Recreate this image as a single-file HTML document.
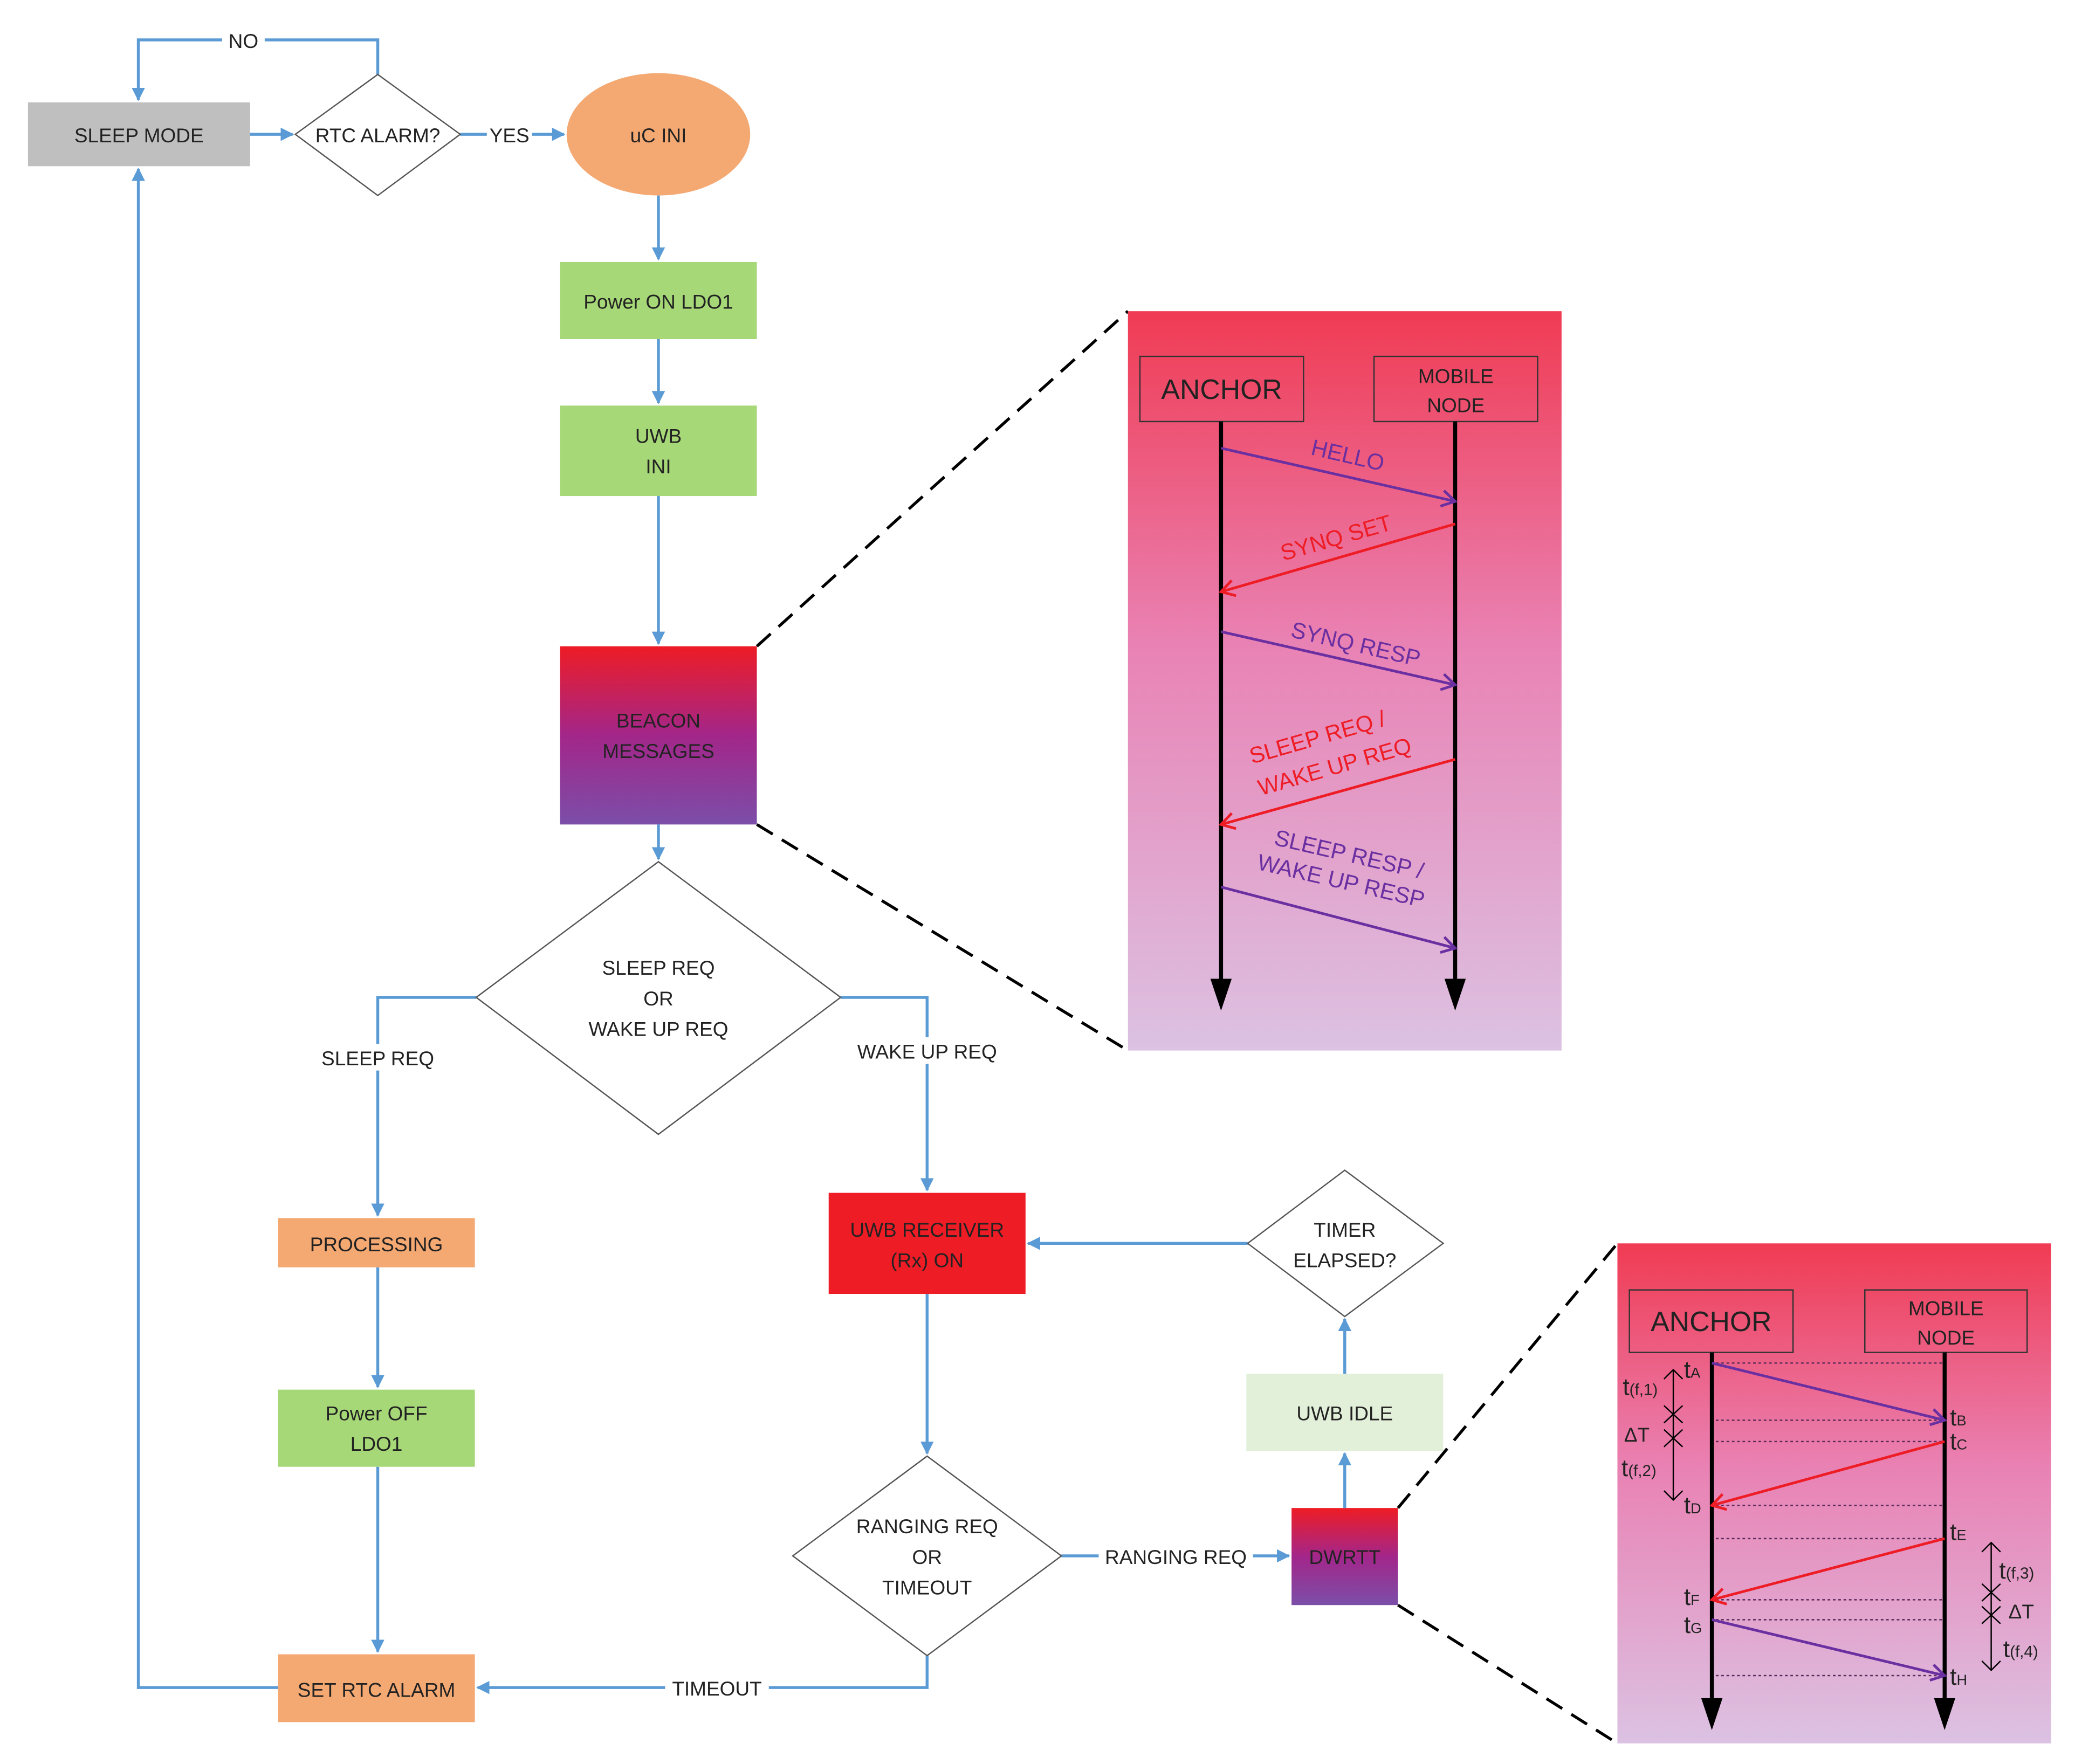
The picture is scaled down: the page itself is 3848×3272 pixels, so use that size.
<!DOCTYPE html>
<html><head><meta charset="utf-8"><style>
html,body{margin:0;padding:0;background:#fff;}
svg{display:block;}
text{font-family:"Liberation Sans",sans-serif;}
</style></head><body>
<svg width="3848" height="3272" viewBox="0 0 1560 1326.5" xmlns="http://www.w3.org/2000/svg">
<defs>
<linearGradient id="bg" x1="0" y1="0" x2="0" y2="1">
<stop offset="0" stop-color="#ee1c25"/><stop offset="0.5" stop-color="#a3268a"/><stop offset="1" stop-color="#7b4ea8"/></linearGradient>
<linearGradient id="pg" x1="0" y1="0" x2="0" y2="1">
<stop offset="0" stop-color="#f03b53"/><stop offset="0.45" stop-color="#e982b4"/><stop offset="1" stop-color="#dcc2e3"/></linearGradient>
<marker id="ab" markerWidth="10" markerHeight="10" refX="9" refY="5" orient="auto" markerUnits="userSpaceOnUse"><path d="M0,0 L10,5 L0,10 z" fill="#5b9bd5"/></marker>
<marker id="ap" markerWidth="14" markerHeight="14" refX="12" refY="7" orient="auto" markerUnits="userSpaceOnUse"><path d="M2,1 L12,7 L2,13" fill="none" stroke="#6a2fa0" stroke-width="2"/></marker>
<marker id="ar" markerWidth="14" markerHeight="14" refX="12" refY="7" orient="auto" markerUnits="userSpaceOnUse"><path d="M2,1 L12,7 L2,13" fill="none" stroke="#ee1c25" stroke-width="2"/></marker>
</defs>
<g fill="none" stroke="#5b9bd5" stroke-width="2.2">
<polyline points="284,56 284,30 104,30 104,75" marker-end="url(#ab)"/>
<line x1="188" y1="101" x2="220" y2="101" marker-end="url(#ab)"/>
<line x1="346" y1="101" x2="424" y2="101" marker-end="url(#ab)"/>
<line x1="495" y1="147" x2="495" y2="195" marker-end="url(#ab)"/>
<line x1="495" y1="255" x2="495" y2="303" marker-end="url(#ab)"/>
<line x1="495" y1="373" x2="495" y2="484" marker-end="url(#ab)"/>
<line x1="495" y1="620" x2="495" y2="646" marker-end="url(#ab)"/>
<polyline points="358,750 284,750 284,914" marker-end="url(#ab)"/>
<polyline points="632,750 697,750 697,895" marker-end="url(#ab)"/>
<line x1="284" y1="953" x2="284" y2="1043" marker-end="url(#ab)"/>
<line x1="284" y1="1103" x2="284" y2="1242" marker-end="url(#ab)"/>
<polyline points="209,1269 104,1269 104,127" marker-end="url(#ab)"/>
<line x1="697" y1="973" x2="697" y2="1093" marker-end="url(#ab)"/>
<polyline points="697,1245 697,1269 359,1269" marker-end="url(#ab)"/>
<line x1="798" y1="1170" x2="969" y2="1170" marker-end="url(#ab)"/>
<line x1="1011" y1="1134" x2="1011" y2="1093" marker-end="url(#ab)"/>
<line x1="1011" y1="1033" x2="1011" y2="992" marker-end="url(#ab)"/>
<polyline points="938,935 912,935 912,935 773,935" marker-end="url(#ab)"/>
</g>
<g fill="none" stroke="#000" stroke-width="2.2" stroke-dasharray="14,8">
<line x1="569" y1="486" x2="848" y2="234"/><line x1="569" y1="620" x2="848" y2="790"/>
<line x1="1051" y1="1134" x2="1216" y2="935"/><line x1="1051" y1="1207" x2="1216" y2="1311"/>
</g>
<rect x="21" y="77" width="167" height="48" fill="#bfbfbf"/>
<polygon points="284,56 346,101 284,147 222,101" fill="#fff" stroke="#555" stroke-width="1"/>
<ellipse cx="495" cy="101" rx="69" ry="46" fill="#f4a872"/>
<rect x="421" y="197" width="148" height="58" fill="#a6d878"/>
<rect x="421" y="305" width="148" height="68" fill="#a6d878"/>
<rect x="421" y="486" width="148" height="134" fill="url(#bg)"/>
<polygon points="495,648 632,750 495,853 358,750" fill="#fff" stroke="#555" stroke-width="1"/>
<rect x="209" y="916" width="148" height="37" fill="#f4a872"/>
<rect x="209" y="1045" width="148" height="58" fill="#a6d878"/>
<rect x="209" y="1244" width="148" height="51" fill="#f4a872"/>
<rect x="623" y="897" width="148" height="76" fill="#ee1c25"/>
<polygon points="697,1095 798,1170 697,1245 596,1170" fill="#fff" stroke="#555" stroke-width="1"/>
<rect x="971" y="1134" width="80" height="73" fill="url(#bg)"/>
<rect x="937" y="1033" width="148" height="58" fill="#e2f0d9"/>
<polygon points="1011,880 1085,935 1011,990 938,935" fill="#fff" stroke="#555" stroke-width="1"/>
<rect x="167" y="22" width="32" height="16" fill="#fff"/>
<rect x="366" y="92" width="34" height="18" fill="#fff"/>
<rect x="238" y="785" width="92" height="20" fill="#fff"/>
<rect x="638" y="780" width="118" height="20" fill="#fff"/>
<rect x="500" y="1260" width="78" height="18" fill="#fff"/>
<rect x="826" y="1160" width="116" height="20" fill="#fff"/>
<g font-size="15" fill="#222" text-anchor="middle">
<text x="183" y="36">NO</text>
<text x="104.5" y="107">SLEEP MODE</text>
<text x="284" y="107">RTC ALARM?</text>
<text x="383" y="107">YES</text>
<text x="495" y="107">uC INI</text>
<text x="495" y="232">Power ON LDO1</text>
<text x="495" y="333">UWB</text><text x="495" y="356">INI</text>
<text x="495" y="547">BEACON</text><text x="495" y="570">MESSAGES</text>
<text x="495" y="733">SLEEP REQ</text><text x="495" y="756">OR</text><text x="495" y="779">WAKE UP REQ</text>
<text x="284" y="801">SLEEP REQ</text>
<text x="697" y="796">WAKE UP REQ</text>
<text x="283" y="941">PROCESSING</text>
<text x="283" y="1068">Power OFF</text><text x="283" y="1091">LDO1</text>
<text x="283" y="1276">SET RTC ALARM</text>
<text x="697" y="930">UWB RECEIVER</text><text x="697" y="953">(Rx) ON</text>
<text x="697" y="1153">RANGING REQ</text><text x="697" y="1176">OR</text><text x="697" y="1199">TIMEOUT</text>
<text x="539" y="1275">TIMEOUT</text>
<text x="884" y="1176">RANGING REQ</text>
<text x="1011" y="1176">DWRTT</text>
<text x="1011" y="1068">UWB IDLE</text>
<text x="1011" y="930">TIMER</text><text x="1011" y="953">ELAPSED?</text>
</g>
<!-- Panel 1 -->
<rect x="848" y="234" width="326" height="556" fill="url(#pg)"/>
<rect x="857" y="268" width="123" height="49" fill="none" stroke="#333" stroke-width="1"/>
<rect x="1033" y="268" width="123" height="49" fill="none" stroke="#333" stroke-width="1"/>
<text x="918.5" y="300" font-size="21" fill="#222" text-anchor="middle">ANCHOR</text>
<text x="1094.5" y="288" font-size="15" fill="#222" text-anchor="middle">MOBILE</text>
<text x="1094.5" y="310" font-size="15" fill="#222" text-anchor="middle">NODE</text>
<g stroke="#000" stroke-width="3"><line x1="918" y1="317" x2="918" y2="740"/><line x1="1094" y1="317" x2="1094" y2="740"/></g>
<polygon points="910,736 926,736 918,760" fill="#000"/><polygon points="1086,736 1102,736 1094,760" fill="#000"/>
<g stroke-width="2" fill="none">
<line x1="918" y1="337" x2="1094" y2="377" stroke="#6a2fa0" marker-end="url(#ap)"/>
<line x1="1094" y1="394" x2="918" y2="445" stroke="#ee1c25" marker-end="url(#ar)"/>
<line x1="918" y1="475" x2="1094" y2="515" stroke="#6a2fa0" marker-end="url(#ap)"/>
<line x1="1094" y1="571" x2="918" y2="620" stroke="#ee1c25" marker-end="url(#ar)"/>
<line x1="918" y1="667" x2="1094" y2="713" stroke="#6a2fa0" marker-end="url(#ap)"/>
</g>
<g font-size="17" text-anchor="middle">
<text x="1012" y="348" fill="#6a2fa0" transform="rotate(13 1012 348)">HELLO</text>
<text x="1006" y="410" fill="#ee1c25" transform="rotate(-16 1006 410)">SYNQ SET</text>
<text x="1018" y="490" fill="#6a2fa0" transform="rotate(13 1018 490)">SYNQ RESP</text>
<text x="992" y="560" fill="#ee1c25" transform="rotate(-16 992 560)">SLEEP REQ /</text>
<text x="1005" y="582" fill="#ee1c25" transform="rotate(-16 1005 582)">WAKE UP REQ</text>
<text x="1013" y="648" fill="#6a2fa0" transform="rotate(13 1013 648)">SLEEP RESP /</text>
<text x="1007" y="668" fill="#6a2fa0" transform="rotate(13 1007 668)">WAKE UP RESP</text>
</g>
<!-- Panel 2 -->
<rect x="1216" y="935" width="326" height="376" fill="url(#pg)"/>
<rect x="1225" y="970" width="123" height="47" fill="none" stroke="#333" stroke-width="1"/>
<rect x="1402" y="970" width="122" height="47" fill="none" stroke="#333" stroke-width="1"/>
<text x="1286.5" y="1001" font-size="21" fill="#222" text-anchor="middle">ANCHOR</text>
<text x="1463" y="989" font-size="15" fill="#222" text-anchor="middle">MOBILE</text>
<text x="1463" y="1011" font-size="15" fill="#222" text-anchor="middle">NODE</text>
<g stroke="#5a2a5a" stroke-width="1" stroke-dasharray="2,2">
<line x1="1290" y1="1025" x2="1460" y2="1025"/><line x1="1290" y1="1068" x2="1460" y2="1068"/>
<line x1="1290" y1="1084" x2="1460" y2="1084"/><line x1="1290" y1="1132" x2="1460" y2="1132"/>
<line x1="1290" y1="1157" x2="1460" y2="1157"/><line x1="1290" y1="1203" x2="1460" y2="1203"/>
<line x1="1290" y1="1218" x2="1460" y2="1218"/><line x1="1290" y1="1260" x2="1460" y2="1260"/>
</g>
<g stroke="#000" stroke-width="3"><line x1="1287" y1="1017" x2="1287" y2="1280"/><line x1="1462" y1="1017" x2="1462" y2="1280"/></g>
<polygon points="1279,1277 1295,1277 1287,1301" fill="#000"/><polygon points="1454,1277 1470,1277 1462,1301" fill="#000"/>
<g stroke-width="2" fill="none">
<line x1="1287" y1="1025" x2="1462" y2="1068" stroke="#6a2fa0" marker-end="url(#ap)"/>
<line x1="1462" y1="1084" x2="1287" y2="1132" stroke="#ee1c25" marker-end="url(#ar)"/>
<line x1="1462" y1="1157" x2="1287" y2="1203" stroke="#ee1c25" marker-end="url(#ar)"/>
<line x1="1287" y1="1218" x2="1462" y2="1260" stroke="#6a2fa0" marker-end="url(#ap)"/>
</g>
<g stroke="#000" stroke-width="1" fill="none">
<line x1="1258" y1="1030" x2="1258" y2="1128"/>
<path d="M1251,1037 L1258,1030 L1265,1037 M1251,1057 L1265,1070 M1265,1057 L1251,1070 M1251,1075 L1265,1088 M1265,1075 L1251,1088 M1251,1121 L1258,1128 L1265,1121"/>
<line x1="1497" y1="1160" x2="1497" y2="1256"/>
<path d="M1490,1167 L1497,1160 L1504,1167 M1490,1191 L1504,1204 M1504,1191 L1490,1204 M1490,1208 L1504,1221 M1504,1208 L1490,1221 M1490,1249 L1497,1256 L1504,1249"/>
</g>
<g font-size="18" fill="#222">
<text x="1266" y="1036">t<tspan font-size="11">A</tspan></text>
<text x="1466" y="1072">t<tspan font-size="11">B</tspan></text>
<text x="1466" y="1090">t<tspan font-size="11">C</tspan></text>
<text x="1266" y="1138">t<tspan font-size="11">D</tspan></text>
<text x="1466" y="1158">t<tspan font-size="11">E</tspan></text>
<text x="1266" y="1207">t<tspan font-size="11">F</tspan></text>
<text x="1266" y="1228">t<tspan font-size="11">G</tspan></text>
<text x="1466" y="1267">t<tspan font-size="11">H</tspan></text>
<text x="1220" y="1049">t<tspan font-size="12">(f,1)</tspan></text>
<text x="1221" y="1084" font-size="15">ΔT</text>
<text x="1219" y="1110">t<tspan font-size="12">(f,2)</tspan></text>
<text x="1503" y="1187">t<tspan font-size="12">(f,3)</tspan></text>
<text x="1510" y="1217" font-size="15">ΔT</text>
<text x="1506" y="1246">t<tspan font-size="12">(f,4)</tspan></text>
</g>
</svg>
</body></html>
